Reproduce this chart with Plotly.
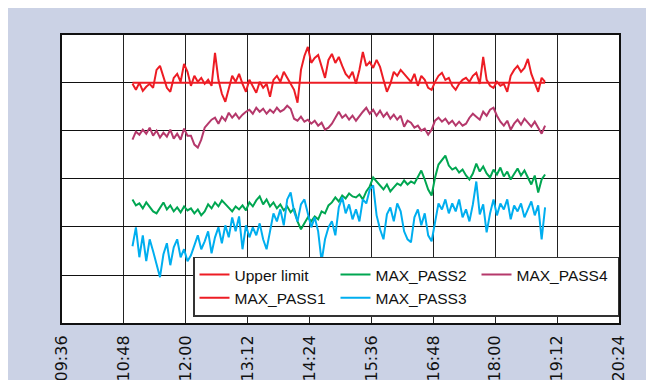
import pandas as pd
import plotly.graph_objects as go

# ---------------- data ----------------
start_time = "2000-01-01 10:58"
n_points = 121
sample_step = "4min"
times = pd.date_range(start=start_time, periods=n_points, freq=sample_step)

upper_limit = 241

max_pass1 = [
    240, 234, 241, 233, 237, 240, 236, 254, 258, 246,
    236, 232, 246, 250, 242, 260, 252, 238, 248, 242,
    246, 240, 244, 238, 271, 244, 230, 222, 236, 248,
    242, 250, 240, 232, 244, 238, 231, 242, 236, 240,
    227, 244, 248, 242, 252, 246, 240, 234, 221, 254,
    268, 277, 261, 266, 269, 258, 246, 264, 270, 261,
    267, 258, 250, 246, 252, 240, 254, 272, 258, 262,
    256, 264, 257, 244, 232, 240, 252, 248, 254, 250,
    246, 242, 250, 238, 248, 244, 236, 234, 242, 248,
    251, 244, 246, 238, 234, 240, 244, 246, 242, 248,
    251, 240, 267, 244, 238, 236, 242, 238, 240, 232,
    248, 254, 258, 252, 256, 265, 250, 240, 232, 246, 242,
]

max_pass2 = [
    124, 118, 120, 115, 121, 116, 112, 110, 115, 121,
    114, 118, 112, 116, 111, 117, 113, 115, 110, 114,
    108, 112, 119, 115, 121, 117, 123, 119, 116, 112,
    117, 114, 118, 113, 121, 117, 123, 127, 119, 124,
    117, 121, 115, 119, 113, 117, 111, 115, 102, 94,
    100, 106, 102, 107, 104, 112, 110, 118, 121, 126,
    122, 128, 125, 130, 127, 126, 129, 124, 132, 137,
    146, 142, 138, 134, 139, 132, 136, 140, 138, 143,
    139, 142, 140, 146, 153, 144, 134, 128, 146, 159,
    164, 168, 158, 154, 156, 151, 154, 148, 144, 150,
    160, 152, 157, 150, 146, 154, 149, 156, 147, 152,
    144, 149, 155, 148, 153, 146, 139, 148, 131, 144, 149,
]

max_pass3 = [
    77, 96, 66, 88, 62, 84, 72, 60, 46, 69,
    80, 58, 76, 84, 66, 74, 62, 68, 77, 88,
    74, 82, 92, 70, 86, 96, 80, 98, 86, 106,
    92, 107, 74, 98, 86, 96, 88, 100, 84, 74,
    92, 110, 102, 114, 98, 124, 131, 112, 102, 119,
    124, 109, 96, 106, 92, 62, 84, 96, 102, 88,
    116, 126, 110, 119, 104, 114, 102, 124, 120, 134,
    138, 108, 94, 84, 109, 116, 102, 120, 112, 92,
    84, 81, 106, 114, 98, 110, 88, 82, 102, 120,
    114, 124, 110, 120, 112, 124, 106, 114, 102, 119,
    142, 109, 119, 91, 110, 124, 108, 120, 114, 124,
    104, 118, 112, 120, 106, 114, 122, 108, 118, 84, 116,
]

max_pass4 = [
    184, 192, 189, 194, 190, 196, 188, 193, 186, 191,
    187, 194, 185, 190, 184, 195, 188, 188, 179, 176,
    184, 196, 200, 204, 206, 200, 207, 203, 211, 206,
    210, 205, 209, 212, 214, 210, 216, 212, 215, 210,
    214, 211, 216, 212, 214, 218, 215, 205, 203, 207,
    202, 204, 200, 203, 198, 201, 194, 196, 200, 206,
    212, 206, 209, 204, 208, 203, 208, 212, 216, 210,
    214, 208, 213, 207, 211, 205, 209, 204, 208, 197,
    203, 201, 196, 198, 193, 195, 189, 194, 203, 206,
    202, 205, 200, 203, 198, 202, 198, 200, 206, 210,
    207, 204, 212, 208, 214, 216, 208, 202, 198, 203,
    194, 200, 204, 199, 205, 201, 197, 202, 196, 190, 198,
]

x_range = ["2000-01-01 09:36", "2000-01-01 20:24"]
y_range = [0, 289]
y_grid_step = 48.17

# ---------------- figure ----------------
RED = "#ed1c24"
GREEN = "#00a651"
BLUE = "#00aeef"
PURPLE = "#b5386b"
BG = "#cbd2e5"

fig = go.Figure()

series = [
    ("Upper limit", [times[0], times[-1]], [upper_limit, upper_limit], RED, 1),
    ("MAX_PASS1", times, max_pass1, RED, 4),
    ("MAX_PASS2", times, max_pass2, GREEN, 2),
    ("MAX_PASS3", times, max_pass3, BLUE, 5),
    ("MAX_PASS4", times, max_pass4, PURPLE, 3),
]
for name, xs, ys, color, rank in series:
    fig.add_trace(go.Scatter(
        x=xs, y=ys, name=name, mode="lines",
        line=dict(color=color, width=2),
        legendrank=rank,
    ))

# figure is placed at (8, 8) in the page by the default body margin
W, H = 654, 380
L, R, T, B = 54, 43, 26.5, 64.5
pw, ph = W - L - R, H - T - B

def fx(p):
    return (p - L) / pw

def fy(p):
    return (H - B - p) / ph

fig.update_layout(
    width=W, height=H,
    margin=dict(l=L, r=R, t=T, b=B, autoexpand=False),
    paper_bgcolor=BG,
    plot_bgcolor="white",
    showlegend=True,
    legend=dict(
        orientation="h",
        x=fx(185), xanchor="left",
        y=fy(309), yanchor="bottom",
        bgcolor="white",
        bordercolor="#333333", borderwidth=1.5,
        font=dict(family="Liberation Sans, Arial, sans-serif",
                  size=15.5, color="#111111"),
        entrywidth=96, entrywidthmode="pixels",
        traceorder="normal",
        itemclick=False,
    ),
)

fig.update_xaxes(
    type="date",
    range=x_range,
    tick0=x_range[0], dtick=72 * 60 * 1000,
    tickformat="%H:%M",
    tickangle=-90,
    tickfont=dict(family="DejaVu Sans, sans-serif", size=16, color="#111111"),
    ticklabelstandoff=4,
    showgrid=True, gridcolor="#222222", gridwidth=1.2,
    showline=True, linecolor="#111111", linewidth=2, mirror=True,
    zeroline=False, ticks="",
)
fig.update_yaxes(
    range=y_range,
    tick0=0, dtick=y_grid_step,
    showticklabels=False,
    showgrid=True, gridcolor="#111111", gridwidth=1.2,
    showline=True, linecolor="#111111", linewidth=2, mirror=True,
    zeroline=False, ticks="",
)

fig.write_html("out.html")
